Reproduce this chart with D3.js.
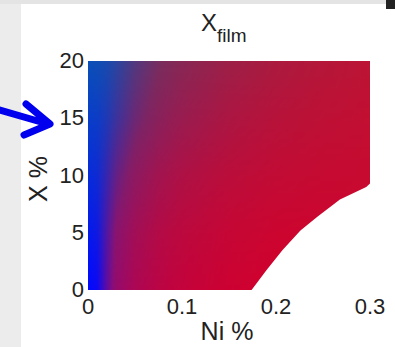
<!DOCTYPE html>
<html>
<head>
<meta charset="utf-8">
<script src="https://cdn.jsdelivr.net/npm/d3@7"></script>
<style>
  body { margin: 0; background: white; }
  svg { display: block; font-family: 'Liberation Sans', Arial, sans-serif; }
</style>
</head>
<body>
<script>
// Ni % grid (columns) and X % grid (rows)
var niVals = [0, 0.01, 0.02, 0.03, 0.05, 0.075, 0.1, 0.15, 0.2, 0.25, 0.3];
var xVals = [0, 5, 10, 15, 20];

// red fraction of X_film, one row per xVals entry
var redFrac = [
  [0, 0.05, 0.35, 0.58, 0.74, 0.84, 0.9, 0.96, 1, 1, 1],
  [0, 0.05, 0.3, 0.52, 0.7, 0.82, 0.88, 0.95, 0.99, 1, 1],
  [0, 0.04, 0.2, 0.38, 0.58, 0.73, 0.82, 0.91, 0.96, 0.99, 1],
  [0, 0.02, 0.1, 0.22, 0.42, 0.58, 0.7, 0.84, 0.92, 0.97, 1],
  [0, 0.02, 0.06, 0.14, 0.32, 0.48, 0.6, 0.76, 0.87, 0.94, 1]
];

// edge of the measured region (Ni %, X %), bottom right is empty
var edgeNi = [0.3, 0.296, 0.268, 0.244, 0.226, 0.207, 0.19, 0.174];
var edgeX = [9.3, 9.0, 7.9, 6.4, 5.2, 3.5, 1.75, 0];

var xTicks = [0, 0.1, 0.2, 0.3];
var yTicks = [0, 5, 10, 15, 20];

var width = 395, height = 347;
var plotL = 88, plotR = 370, plotT = 61, plotB = 290;

var svg = d3.select("body").append("svg")
    .attr("width", width)
    .attr("height", height);

// screenshot edges
svg.append("rect").attr("x", 0).attr("y", 0).attr("width", 21).attr("height", height).attr("fill", "#ececec");
svg.append("rect").attr("x", 0).attr("y", 0).attr("width", width).attr("height", 4).attr("fill", "#e4e4e4");
svg.append("rect").attr("x", 386).attr("y", 0).attr("width", 9).attr("height", 9).attr("fill", "#222");

var x = d3.scaleLinear().domain([0, 0.3]).range([plotL, plotR]);
var y = d3.scaleLinear().domain([0, 20]).range([plotB, plotT]);

// colour at bottom and top of the plot
var colBottom = d3.scaleLinear().domain([0, 0.5, 1]).range(["#0008ff", "#8a0c78", "#d2002c"]);
var colTop = d3.scaleLinear().domain([0, 0.5, 1]).range(["#0a4fb8", "#7a2c5c", "#bc1434"]);

// one piecewise scale per row, then across rows
var rowScales = redFrac.map(function (row) {
    return d3.scaleLinear().domain(niVals).range(row).clamp(true);
});

var pw = plotR - plotL, ph = plotB - plotT;
var canvas = document.createElement("canvas");
canvas.width = pw;
canvas.height = ph;
var ctx = canvas.getContext("2d");
var img = ctx.createImageData(pw, ph);
for (var j = 0; j < ph; j++) {
    var xv = y.invert(plotT + j + 0.5);
    for (var i = 0; i < pw; i++) {
        var ni = x.invert(plotL + i + 0.5);
        var col = rowScales.map(function (s) { return s(ni); });
        var v = d3.scaleLinear().domain(xVals).range(col).clamp(true)(xv);
        var t = Math.max(0, Math.min(1, xv / 20));
        var c = d3.rgb(d3.interpolateRgb(colBottom(v), colTop(v))(t));
        var k = (j * pw + i) * 4;
        img.data[k] = c.r; img.data[k + 1] = c.g; img.data[k + 2] = c.b; img.data[k + 3] = 255;
    }
}
ctx.putImageData(img, 0, 0);

// clip to the measured region
var region = [[0, 0], [0, 20], [0.3, 20]];
edgeNi.forEach(function (n, i) { region.push([n, edgeX[i]]); });

svg.append("clipPath").attr("id", "region")
  .append("path")
    .attr("d", d3.line().x(function (d) { return x(d[0]); }).y(function (d) { return y(d[1]); })(region) + "Z");

svg.append("image")
    .attr("x", plotL).attr("y", plotT)
    .attr("width", pw).attr("height", ph)
    .attr("preserveAspectRatio", "none")
    .attr("href", canvas.toDataURL())
    .attr("clip-path", "url(#region)");

// tick labels
svg.selectAll(".xt").data(xTicks).enter().append("text")
    .attr("x", function (d) { return x(d); })
    .attr("y", 314)
    .attr("text-anchor", "middle")
    .attr("font-size", 22)
    .attr("fill", "#222")
    .text(function (d) { return d; });

svg.selectAll(".yt").data(yTicks).enter().append("text")
    .attr("x", 84)
    .attr("y", function (d) { return y(d) + 7; })
    .attr("text-anchor", "end")
    .attr("font-size", 22)
    .attr("fill", "#222")
    .text(function (d) { return d; });

// axis titles
svg.append("text")
    .attr("x", 227).attr("y", 340)
    .attr("text-anchor", "middle")
    .attr("font-size", 25)
    .attr("fill", "#222")
    .text("Ni %");

svg.append("text")
    .attr("transform", "translate(47,179) rotate(-90)")
    .attr("text-anchor", "middle")
    .attr("font-size", 25)
    .attr("fill", "#222")
    .text("X %");

var title = svg.append("text")
    .attr("x", 201).attr("y", 31)
    .attr("font-size", 24)
    .attr("fill", "#222");
title.append("tspan").text("X");
title.append("tspan").attr("dy", 11).attr("font-size", 19).text("film");

// blue pointer arrow
svg.append("path")
    .attr("d", "M0,110 L48,124 M26,104 L50,124 L24,135")
    .attr("fill", "none")
    .attr("stroke", "#0000ee")
    .attr("stroke-width", 7)
    .attr("stroke-linecap", "round")
    .attr("stroke-linejoin", "round");
</script>
</body>
</html>
